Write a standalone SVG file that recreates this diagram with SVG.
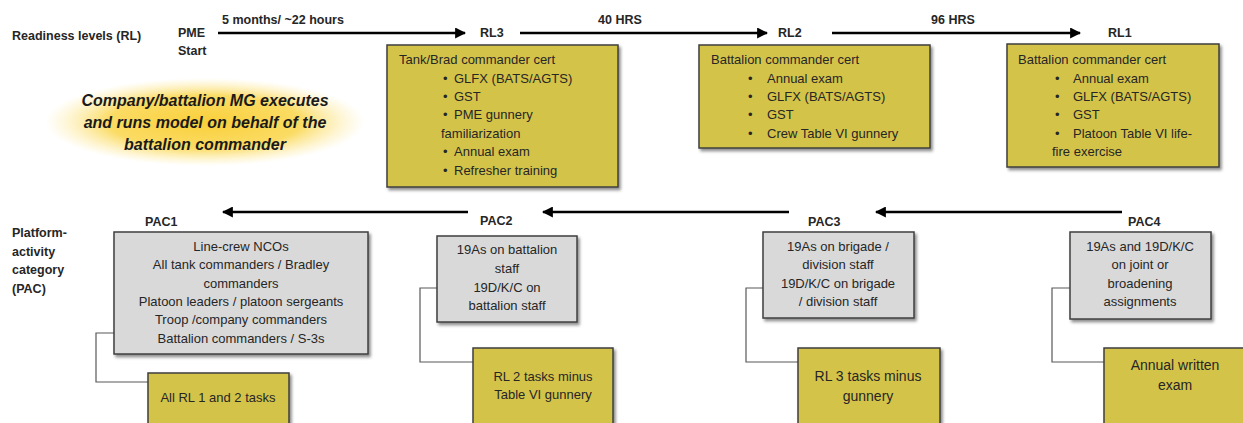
<svg xmlns="http://www.w3.org/2000/svg" width="1243" height="423" viewBox="0 0 1243 423">
<defs>
<style>
text{font-family:"Liberation Sans",Arial,sans-serif;fill:#262626;}
.lb{font-size:12.5px;font-weight:bold;}
.t{font-size:13px;}
.tc{font-size:13px;text-anchor:middle;}
.tb{font-size:14px;text-anchor:middle;}
.note{font-size:16px;font-weight:bold;font-style:italic;text-anchor:middle;fill:#1a1a1a;}
.yb{fill:#d4c34a;stroke:#3f3f3f;stroke-width:1.5;filter:url(#sh);}
.gb{fill:#d9d9d9;stroke:#3f3f3f;stroke-width:1.5;filter:url(#sh);}
.arr{stroke:#000;stroke-width:2.5;fill:none;marker-end:url(#ah);}
.con{stroke:#595959;stroke-width:1.2;fill:none;}
</style>
<marker id="ah" viewBox="0 0 10 10" refX="9" refY="5" markerWidth="4.4" markerHeight="4.4" orient="auto" markerUnits="strokeWidth">
<path d="M0,0 L10,5 L0,10 z" fill="#000"/>
</marker>
<filter id="sh" x="-10%" y="-10%" width="130%" height="130%">
<feDropShadow dx="2" dy="2.5" stdDeviation="1.8" flood-color="#000" flood-opacity="0.45"/>
</filter>
<radialGradient id="glow" cx="0.5" cy="0.5" r="0.5">
<stop offset="0" stop-color="#f9cf3a" stop-opacity="1"/>
<stop offset="0.6" stop-color="#fad548" stop-opacity="0.85"/>
<stop offset="1" stop-color="#fde68a" stop-opacity="0"/>
</radialGradient>
</defs>
<rect width="1243" height="423" fill="#fff"/>

<g id="labels">
<text class="lb" x="12" y="40">Readiness levels (RL)</text>
<text class="lb" x="178" y="37">PME</text>
<text class="lb" x="178" y="55">Start</text>
<text class="lb" x="222" y="24">5 months/ ~22 hours</text>
<text class="lb" x="620" y="24" text-anchor="middle">40 HRS</text>
<text class="lb" x="953" y="24" text-anchor="middle">96 HRS</text>
<text class="lb" x="12" y="237">Platform-</text>
<text class="lb" x="12" y="256">activity</text>
<text class="lb" x="12" y="274">category</text>
<text class="lb" x="12" y="293">(PAC)</text>
</g>

<g id="note">
<ellipse cx="205" cy="122" rx="160" ry="44" fill="url(#glow)"/>
<text class="note" x="205" y="106">Company/battalion MG executes</text>
<text class="note" x="205" y="128">and runs model on behalf of the</text>
<text class="note" x="205" y="150">battalion commander</text>
</g>

<g id="connectors">
<line class="arr" x1="218" y1="33" x2="465" y2="33"/>
<line class="arr" x1="520" y1="33" x2="767" y2="33"/>
<line class="arr" x1="832" y1="33" x2="1080" y2="33"/>
<line class="arr" x1="468" y1="212" x2="223" y2="212"/>
<line class="arr" x1="789" y1="212" x2="543" y2="212"/>
<line class="arr" x1="1122" y1="212" x2="876" y2="212"/>
<polyline class="con" points="114,333 96,333 96,382 148,382"/>
<polyline class="con" points="437,288 420,288 420,362 473,362"/>
<polyline class="con" points="763,288 746,288 746,362 798,362"/>
<polyline class="con" points="1070,288 1052,288 1052,362 1104,362"/>
</g>

<g id="rl3">
<text class="lb" x="480" y="37">RL3</text>
<rect class="yb" x="387" y="45" width="231" height="142"/>
<text class="t" x="399" y="64">Tank/Brad commander cert</text>
<text class="t" x="443" y="83">•</text><text class="t" x="454" y="83">GLFX (BATS/AGTS)</text>
<text class="t" x="443" y="101">•</text><text class="t" x="454" y="101">GST</text>
<text class="t" x="443" y="119">•</text><text class="t" x="454" y="119">PME gunnery</text>
<text class="t" x="441" y="138">familiarization</text>
<text class="t" x="443" y="156">•</text><text class="t" x="454" y="156">Annual exam</text>
<text class="t" x="443" y="175">•</text><text class="t" x="454" y="175">Refresher training</text>
</g>

<g id="rl2">
<text class="lb" x="778" y="37">RL2</text>
<rect class="yb" x="699" y="45" width="231" height="103"/>
<text class="t" x="711" y="64">Battalion commander cert</text>
<text class="t" x="748" y="83">•</text><text class="t" x="767" y="83">Annual exam</text>
<text class="t" x="748" y="101">•</text><text class="t" x="767" y="101">GLFX (BATS/AGTS)</text>
<text class="t" x="748" y="119">•</text><text class="t" x="767" y="119">GST</text>
<text class="t" x="748" y="138">•</text><text class="t" x="767" y="138">Crew Table VI gunnery</text>
</g>

<g id="rl1">
<text class="lb" x="1108" y="37">RL1</text>
<rect class="yb" x="1007" y="44" width="212" height="123"/>
<text class="t" x="1018" y="64">Battalion commander cert</text>
<text class="t" x="1055" y="83">•</text><text class="t" x="1073" y="83">Annual exam</text>
<text class="t" x="1055" y="101">•</text><text class="t" x="1073" y="101">GLFX (BATS/AGTS)</text>
<text class="t" x="1055" y="119">•</text><text class="t" x="1073" y="119">GST</text>
<text class="t" x="1055" y="138">•</text><text class="t" x="1073" y="138">Platoon Table VI  life-</text>
<text class="t" x="1052" y="156">fire exercise</text>
</g>

<g id="pac1">
<text class="lb" x="145" y="226">PAC1</text>
<rect class="gb" x="114" y="232" width="254" height="122"/>
<text class="tc" x="241" y="251">Line-crew NCOs</text>
<text class="tc" x="241" y="269">All tank commanders / Bradley</text>
<text class="tc" x="241" y="288">commanders</text>
<text class="tc" x="241" y="306">Platoon leaders / platoon sergeants</text>
<text class="tc" x="241" y="324">Troop /company commanders</text>
<text class="tc" x="241" y="343">Battalion commanders / S-3s</text>
</g>
<g id="pac1-task">
<rect class="yb" x="148" y="373" width="141" height="52"/>
<text class="tc" x="218" y="402">All RL 1 and 2 tasks</text>
</g>

<g id="pac2">
<text class="lb" x="480" y="225">PAC2</text>
<rect class="gb" x="437" y="236" width="140" height="86"/>
<text class="tc" x="507" y="254">19As on battalion</text>
<text class="tc" x="507" y="273">staff</text>
<text class="tc" x="507" y="292">19D/K/C on</text>
<text class="tc" x="507" y="310">battalion staff</text>
</g>
<g id="pac2-task">
<rect class="yb" x="473" y="348" width="140" height="77"/>
<text class="tc" x="543" y="381">RL 2 tasks minus</text>
<text class="tc" x="543" y="399">Table VI gunnery</text>
</g>

<g id="pac3">
<text class="lb" x="808" y="226">PAC3</text>
<rect class="gb" x="763" y="232" width="151" height="86"/>
<text class="tc" x="838" y="251">19As on brigade /</text>
<text class="tc" x="838" y="269">division staff</text>
<text class="tc" x="838" y="288">19D/K/C on brigade</text>
<text class="tc" x="838" y="306">/ division staff</text>
</g>
<g id="pac3-task">
<rect class="yb" x="798" y="348" width="142" height="77"/>
<text class="tb" x="868" y="381">RL 3 tasks minus</text>
<text class="tb" x="868" y="401">gunnery</text>
</g>

<g id="pac4">
<text class="lb" x="1128" y="226">PAC4</text>
<rect class="gb" x="1070" y="232" width="141" height="87"/>
<text class="tc" x="1140" y="251">19As and 19D/K/C</text>
<text class="tc" x="1140" y="269">on joint or</text>
<text class="tc" x="1140" y="288">broadening</text>
<text class="tc" x="1140" y="306">assignments</text>
</g>
<g id="pac4-task">
<rect class="yb" x="1104" y="348" width="145" height="77"/>
<text class="tb" x="1175" y="370">Annual written</text>
<text class="tb" x="1175" y="390">exam</text>
</g>
</svg>
